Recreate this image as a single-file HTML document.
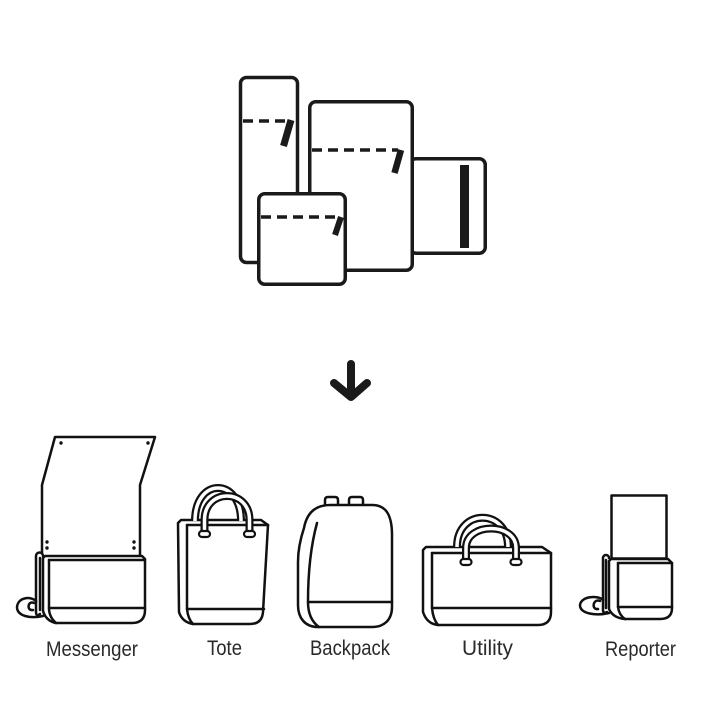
<!DOCTYPE html>
<html><head><meta charset="utf-8"><style>
html,body{margin:0;padding:0;background:#fff;}
svg{display:block;}
text{font-family:"Liberation Sans",sans-serif;font-size:21px;fill:#2a2a2a;}
</style></head><body>
<svg width="712" height="712" viewBox="0 0 712 712" xmlns="http://www.w3.org/2000/svg">
<rect width="712" height="712" fill="#fff"/>
<g stroke="#1a1a1a" stroke-width="3.5" fill="#fff" stroke-linejoin="round">
  <!-- A -->
  <rect x="240.5" y="77.5" width="57" height="185" rx="6"/>
  <line x1="243" y1="121" x2="288" y2="121" stroke-dasharray="10 6" fill="none"/>
  <line x1="291" y1="120" x2="283.5" y2="146" stroke-width="7" stroke-linecap="butt"/>
  <!-- C -->
  <rect x="410" y="158.75" width="75.25" height="94.5" rx="6"/>
  <rect x="460" y="165" width="9" height="83" fill="#1a1a1a" stroke="none"/>
  <!-- B -->
  <rect x="309.75" y="101.75" width="102.5" height="168.5" rx="6"/>
  <line x1="312" y1="150" x2="398" y2="150" stroke-dasharray="10 6" fill="none"/>
  <line x1="401" y1="150" x2="394.5" y2="173" stroke-width="6.5"/>
  <!-- D -->
  <rect x="258.75" y="193.75" width="86.5" height="90.5" rx="6"/>
  <line x1="261" y1="217" x2="337" y2="217" stroke-dasharray="10 6" fill="none"/>
  <line x1="341" y1="217" x2="335" y2="235" stroke-width="6"/>
</g>
<!-- arrow -->
<g stroke="#1a1a1a" stroke-width="8" stroke-linecap="round" stroke-linejoin="round" fill="none">
  <path d="M351,364 L351,396 M334,383 L351,397 L367,383"/>
</g>

<g stroke="#111" stroke-width="2.5" fill="#fff" stroke-linejoin="round" stroke-linecap="round">
  <!-- Messenger -->
  <path d="M42,553 L42,485 L55,437 L155,437 L140,485 L140,557" />
  <g fill="#111" stroke="none">
    <circle cx="61" cy="443" r="1.7"/><circle cx="148" cy="443" r="1.7"/>
    <circle cx="47" cy="542" r="1.7"/><circle cx="47" cy="548" r="1.7"/>
    <circle cx="134" cy="542" r="1.7"/><circle cx="134" cy="548" r="1.7"/>
  </g>
  <path d="M43,558 L45,556 L142,556 L145,559 L145,610 Q145,623 132,623 L56,623 Q46,621 43,611 Z"/>
  <path d="M49,560 L145,560" fill="none"/>
  <path d="M49,560 L49,608 Q49,617 56,623" fill="none"/>
  <path d="M49,608 L145,608" fill="none"/>
  <path d="M36,602 L36,556 A3.5,3.5 0 0 1 43,556" fill="none"/>
  <path d="M40,610 L40,558" fill="none"/>
  <path d="M36,601 C31,596 18,597 17,607 C17,616 30,619 43,616" fill="none"/>
  <path d="M36,601 L36,612 Q36,617 40,614" fill="none"/>
  <path d="M34,603 C28,600 26,611 33,610" fill="none"/>

  <!-- Tote -->
  <path d="M178,523 L181,520 L261,520 L268,525 L263,612 Q262,624 250,624 L193,624 Q182,622 179,612 Z"/>
  <path d="M187,525 L268,525" fill="none"/>
  <path d="M187,525 L187,609 Q188,619 193,624" fill="none"/>
  <path d="M187,609 L264,609" fill="none"/>

  <!-- Backpack -->
  <path d="M325,505 L325,500 Q325,497 328,497 L335,497 Q338,497 338,500 L338,505"/>
  <path d="M349,505 L349,500 Q349,497 352,497 L360,497 Q363,497 363,500 L363,505"/>
  <path d="M304,528 C307,512 316,505 330,505 L372,505 C386,505 392,515 392,535 L392,607 C392,620 384,627 372,627 L318,627 C305,627 298,618 298,605 L298,562 C298,550 300,540 304,528 Z"/>
  <path d="M308,602 L392,602" fill="none"/>
  <path d="M317,523 C311,545 308,570 308,602 C308,614 312,622 319,627" fill="none"/>

  <!-- Utility -->
  <path d="M423,550 L426,547 L542,547 L551,553 L551,612 Q551,625 538,625 L438,625 Q427,624 423,612 Z"/>
  <path d="M432,553 L551,553" fill="none"/>
  <path d="M432,553 L432,608 Q433,619 438,625" fill="none"/>
  <path d="M432,608 L551,608" fill="none"/>

  <!-- Reporter -->
  <rect x="611.5" y="495.5" width="55" height="63"/>
  <path d="M609,561 L611,559 L668,559 L672,563 L672,608 Q672,619 660,619 L625,619 Q613,618 609,609 Z"/>
  <path d="M618,563 L672,563" fill="none"/>
  <path d="M618,563 L618,607 Q619,615 625,619" fill="none"/>
  <path d="M618,607 L672,607" fill="none"/>
  <path d="M603,600 L603,558 A3,3 0 0 1 609,558" fill="none"/>
  <path d="M606,608 L606,560" fill="none"/>
  <path d="M603,600 C598,595 581,596 580,605 C580,614 596,616 609,613" fill="none"/>
  <path d="M603,600 L603,610 Q603,614 607,612" fill="none"/>
  <path d="M600,601 C593,598 591,610 598,609" fill="none"/>
</g>

<!-- handles -->
<g fill="none" stroke-linecap="butt">
  <path d="M195,521 C195,477 241,477 241,521" stroke="#111" stroke-width="8"/>
  <path d="M195,521 C195,477 241,477 241,521" stroke="#fff" stroke-width="3.5"/>
  <path d="M204.5,533 L204.5,520 C204.5,488 249.5,488 249.5,520 L249.5,533" stroke="#111" stroke-width="8"/>
  <path d="M204.5,533 L204.5,520 C204.5,488 249.5,488 249.5,520 L249.5,533" stroke="#fff" stroke-width="3.5"/>

  <path d="M457,547 C457,508 508,508 508,547" stroke="#111" stroke-width="8"/>
  <path d="M457,547 C457,508 508,508 508,547" stroke="#fff" stroke-width="3.5"/>
  <path d="M466,562 L466,548 C466,522 516,522 516,548 L516,562" stroke="#111" stroke-width="8"/>
  <path d="M466,562 L466,548 C466,522 516,522 516,548 L516,562" stroke="#fff" stroke-width="3.5"/>
</g>
<g fill="#fff" stroke="#111" stroke-width="2.2">
  <rect x="199" y="531" width="11" height="6" rx="3"/>
  <rect x="244" y="531" width="11" height="6" rx="3"/>
  <rect x="460.5" y="559" width="11" height="6" rx="3"/>
  <rect x="510.5" y="559" width="11" height="6" rx="3"/>
</g>

<text x="46" y="656" textLength="92" lengthAdjust="spacingAndGlyphs">Messenger</text>
<text x="207" y="655" textLength="35" lengthAdjust="spacingAndGlyphs">Tote</text>
<text x="310" y="655" textLength="80" lengthAdjust="spacingAndGlyphs">Backpack</text>
<text x="462" y="655" textLength="51" lengthAdjust="spacingAndGlyphs">Utility</text>
<text x="605" y="656" textLength="71" lengthAdjust="spacingAndGlyphs">Reporter</text>
</svg>
</body></html>
